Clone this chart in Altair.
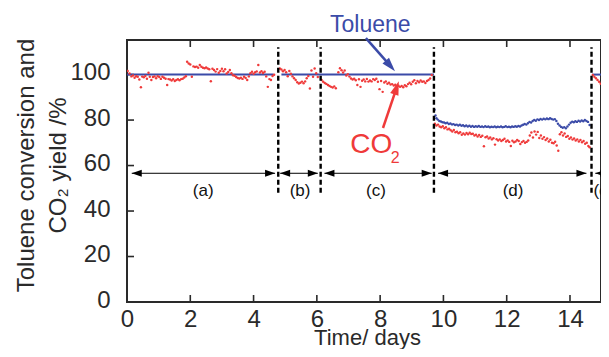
import math
import altair as alt
import pandas as pd

# ---------------- data ----------------
co2_days = [
    0.02, 0.08, 0.14, 0.19, 0.24, 0.29, 0.34, 0.39, 0.44, 0.48, 0.53, 0.58, 0.63, 0.68, 0.72, 0.77,
    0.82, 0.87, 0.92, 0.97, 1.02, 1.07, 1.12, 1.17, 1.22, 1.27, 1.31, 1.36, 1.41, 1.46, 1.51, 1.56,
    1.61, 1.66, 1.71, 1.76, 1.81, 1.86, 1.90, 1.95, 2.00, 2.05, 2.10, 2.15, 2.20, 2.25, 2.30, 2.35,
    2.40, 2.45, 2.50, 2.55, 2.60, 2.65, 2.70, 2.75, 2.80, 2.85, 2.90, 2.95, 3.00, 3.05, 3.10, 3.15,
    3.20, 3.25, 3.30, 3.35, 3.40, 3.45, 3.50, 3.55, 3.60, 3.65, 3.70, 3.75, 3.80, 3.85, 3.90, 3.95,
    4.00, 4.05, 4.10, 4.15, 4.20, 4.25, 4.30, 4.35, 4.40, 4.45, 4.50, 4.55, 4.60, 4.65,
    4.83, 4.88, 4.93, 4.98, 5.03, 5.08, 5.13, 5.18, 5.23, 5.28, 5.33, 5.38, 5.43, 5.48, 5.53, 5.58,
    5.63, 5.68, 5.73, 5.78, 5.83, 5.88, 5.93, 5.98, 6.03,
    6.15, 6.20, 6.25, 6.30, 6.35, 6.40, 6.45, 6.50, 6.55, 6.60, 6.68, 6.73, 6.78, 6.83, 6.88, 6.93,
    6.98, 7.03, 7.08, 7.13, 7.18, 7.23, 7.28, 7.33, 7.38, 7.43, 7.48, 7.53, 7.58, 7.63, 7.68, 7.73,
    7.78, 7.83, 7.88, 7.93, 7.98, 8.03, 8.08, 8.13, 8.18, 8.23, 8.28, 8.33, 8.38, 8.43, 8.48, 8.53,
    8.58, 8.63, 8.68, 8.73, 8.78, 8.83, 8.88, 8.93, 8.98, 9.03, 9.08, 9.13, 9.18, 9.23, 9.28, 9.33,
    9.38, 9.43, 9.48, 9.53, 9.58, 9.63,
    9.73, 9.78, 9.83, 9.88, 9.93, 9.98, 10.03, 10.08, 10.13, 10.18, 10.23, 10.28, 10.33, 10.38, 10.43,
    10.48, 10.53, 10.58, 10.63, 10.68, 10.73, 10.78, 10.83, 10.88, 10.93, 10.98, 11.03, 11.08, 11.13,
    11.18, 11.23, 11.28, 11.33, 11.38, 11.43, 11.48, 11.53, 11.58, 11.63, 11.68, 11.73, 11.78, 11.83,
    11.88, 11.93, 11.98, 12.03, 12.08, 12.13, 12.18, 12.23, 12.28, 12.33, 12.38, 12.43, 12.48, 12.53,
    12.58, 12.63, 12.68, 12.73, 12.78, 12.83, 12.88, 12.93, 12.98, 13.03, 13.08, 13.13, 13.18, 13.23,
    13.28, 13.33, 13.38, 13.43, 13.48, 13.53, 13.58, 13.63, 13.68, 13.73, 13.78, 13.83, 13.88, 13.93,
    13.98, 14.03, 14.08, 14.13, 14.18, 14.23, 14.28, 14.33, 14.38, 14.43, 14.48, 14.53, 14.58, 14.62,
    14.72, 14.77, 14.82, 14.87, 14.92, 14.97, 15.02, 15.07, 15.12, 15.17,
]
co2_vals = [
    101.6, 100.5, 99.2, 99.6, 98.6, 99.3, 99.0, 97.8, 94.4, 99.1, 98.8, 99.4, 98.2, 100.8, 99.0, 97.6,
    98.9, 99.2, 98.4, 99.3, 98.9, 98.1, 99.0, 98.6, 98.2, 95.4, 98.0, 97.8, 97.4, 97.9, 97.2, 97.6,
    97.9, 97.5, 98.0, 98.2, 98.7, 99.3, 105.6, 104.9, 104.4, 99.0, 103.6, 103.3, 103.5, 103.0, 104.2, 103.4,
    103.0, 102.8, 103.1, 102.7, 102.3, 97.1, 102.6, 102.0, 101.3, 102.4, 100.8, 101.6, 102.6, 101.5, 102.3, 100.5,
    101.1, 102.0, 100.6, 99.7, 99.5, 98.9, 98.5, 98.3, 98.6, 98.1, 99.0, 98.5, 97.6, 99.2, 100.6, 101.2,
    100.4, 101.0, 101.4, 104.2, 100.9, 101.5, 100.7, 101.2, 99.2, 94.6, 98.0, 97.6, 99.4, 99.9,
    102.7, 102.2, 101.5, 102.0, 101.0, 99.3, 101.6, 100.4, 99.2, 98.4, 97.6, 96.6, 96.1, 96.4, 96.9, 96.2,
    97.0, 98.4, 99.4, 93.9, 101.8, 99.0, 102.7, 100.6, 98.9,
    97.6, 96.8, 96.3, 95.9, 95.4, 95.0, 94.6, 94.3, 94.8, 94.0, 101.0, 102.8, 101.9, 100.9, 101.8, 99.6,
    100.2, 99.1, 98.3, 97.8, 98.2, 97.5, 95.4, 97.9, 94.6, 97.3, 97.8, 97.0, 98.1, 96.9, 97.4, 97.0,
    98.0, 97.6, 98.2, 96.8, 93.6, 97.2, 92.4, 96.5, 97.0, 96.0, 96.4, 95.6, 95.8, 95.2, 95.5, 94.8,
    95.1, 94.6, 95.0, 94.4, 95.3, 94.9, 95.8, 96.4, 95.7, 96.8, 97.5, 96.2, 97.2, 96.6, 97.4, 96.8,
    97.0, 96.3, 97.2, 97.6, 98.3, 99.8,
    78.4, 77.6, 78.0, 77.2, 76.8, 77.3, 76.4, 76.8, 75.9, 76.2, 75.5, 75.0, 75.6, 74.6, 74.9,
    74.2, 74.6, 73.5, 74.1, 73.6, 74.3, 73.8, 74.4, 73.9, 74.0, 73.2, 73.5, 72.8, 73.4,
    72.6, 73.1, 68.5, 72.4, 72.8, 71.9, 72.3, 71.5, 72.0, 69.2, 71.6, 71.0, 71.5, 70.8,
    71.2, 71.8, 70.6, 71.0, 70.4, 68.6, 70.9, 70.2, 70.6, 71.2, 70.8, 69.5, 70.3, 70.8,
    70.0, 70.4, 71.0, 73.2, 74.5, 72.3, 75.0, 73.6, 74.8, 72.1, 73.2, 71.8, 72.5, 71.2,
    71.9, 70.6, 71.3, 70.0, 69.8, 70.5, 68.8, 66.5, 73.8, 74.6, 73.2, 74.1, 72.6, 73.0,
    71.8, 72.3, 71.4, 71.9, 71.0, 71.5, 70.6, 71.2, 70.2, 70.8, 69.6, 70.0, 68.6, 68.0,
    99.8, 99.0, 98.4, 97.6, 96.8, 96.0, 95.2, 94.8, 94.4, 94.8,
]

tol_days = [
    9.72, 9.75, 9.78, 9.82, 9.87, 9.92, 9.97, 10.02, 10.07, 10.12, 10.17, 10.22, 10.27, 10.32, 10.37,
    10.42, 10.47, 10.52, 10.57, 10.62, 10.67, 10.72, 10.77, 10.82, 10.87, 10.92, 10.97, 11.02, 11.07,
    11.12, 11.17, 11.22, 11.27, 11.32, 11.37, 11.42, 11.47, 11.52, 11.57, 11.62, 11.67, 11.72, 11.77,
    11.82, 11.87, 11.92, 11.97, 12.02, 12.07, 12.12, 12.17, 12.22, 12.27, 12.32, 12.37, 12.42, 12.47,
    12.52, 12.57, 12.62, 12.67, 12.72, 12.77, 12.82, 12.87, 12.92, 12.97, 13.02, 13.07, 13.12, 13.17,
    13.22, 13.27, 13.32, 13.37, 13.42, 13.47, 13.52, 13.57, 13.62, 13.67, 13.72, 13.77, 13.82, 13.87,
    13.92, 13.97, 14.02, 14.07, 14.12, 14.17, 14.22, 14.27, 14.32, 14.37, 14.42, 14.47, 14.52, 14.57,
    14.62,
]
tol_vals = [
    84.5, 82.0, 80.8, 80.2, 79.6, 79.4, 79.0, 78.9, 78.6, 78.8, 78.3, 78.5, 78.1, 78.2, 77.8,
    78.0, 77.6, 77.9, 77.5, 77.7, 77.3, 77.6, 77.2, 77.5, 77.1, 77.4, 77.0, 77.3, 77.1,
    77.4, 77.0, 77.2, 76.9, 77.3, 77.0, 77.2, 76.8, 77.1, 76.9, 77.2, 76.8, 77.1, 76.9,
    77.2, 76.8, 77.0, 77.3, 76.9, 77.1, 76.8, 77.2, 77.0, 77.3, 77.1, 77.4, 77.2, 77.6,
    77.9, 78.3, 78.0, 78.6, 79.2, 78.9, 79.6, 80.0, 79.7, 80.3, 80.0, 80.5, 80.2, 80.6,
    80.3, 80.7, 80.4, 80.8, 80.5, 80.2, 80.4, 79.6, 78.4, 77.6, 77.0, 76.6, 76.9, 76.4,
    77.2, 78.0, 78.8, 79.3, 79.0, 79.5, 79.2, 79.7, 79.4, 79.8, 79.5, 80.0, 79.6, 79.2,
    77.8,
]

# layout constants (plot area in px and visible x/y ranges)
W, H = 474, 262
XMAX, YMAX = 14.98, 115.2

# full-conversion periods of toluene (drawn as a line at 100 %)
tol_seg_start = [0.0, 4.88, 14.70]
tol_seg_end = [4.63, 9.70, XMAX]
tol_seg_level = [100, 100, 100]

divider_days = [4.78, 6.12, 9.70, 14.68]
divider_low = [48, 48, 48, 48]
divider_high = [112, 112, 112, 112]

period_labels = ["(a)", "(b)", "(c)", "(d)", "(e)"]
period_start = [0.15, 4.84, 6.24, 9.83, 14.80]
period_end = [4.68, 6.03, 9.63, 14.52, 15.28]
period_mid = [2.41, 5.47, 7.87, 12.20, 15.07]
period_arrow_y = 56.6
period_label_y = 49.0

x_ticks = [0, 2, 4, 6, 8, 10, 12, 14]
y_ticks = [0, 20, 40, 60, 80, 100]

tol_callout_start = (7.55, 116.0)
tol_callout_tip = (8.47, 101.5)
co2_callout_start = (8.09, 76.5)
co2_callout_tip = (8.59, 97.1)

# ---------------- style ----------------
BLUE = "#3b4ba8"
RED = "#ef3a3a"
INK = "#2a2a2a"
FONT = "Liberation Sans"

xs = alt.Scale(domain=[0, XMAX], nice=False, zero=False)
ys = alt.Scale(domain=[0, YMAX], nice=False, zero=False)

x_axis = alt.Axis(values=x_ticks, ticks=False, domain=False, grid=False, labelPadding=5,
                  labelFontSize=24, labelColor=INK, labelFont=FONT, labelFlush=False,
                  labelOverlap=False, title="Time/ days", titleFontSize=22, titleFont=FONT,
                  titleColor=INK, titleFontWeight="normal", titleX=240, titleY=42,
                  titleAlign="center", titleBaseline="alphabetic")
y_axis = alt.Axis(values=y_ticks, ticks=False, domain=False, grid=False, labelPadding=17,
                  labelFontSize=24, labelColor=INK, labelFont=FONT, labelFlush=False,
                  labelOverlap=False, labelOffset=-2,
                  title=["Toluene conversion and", "CO\u2082 yield /%"], titleFontSize=24,
                  titleFont=FONT, titleColor=INK, titleFontWeight="normal", titleAngle=270,
                  titleX=-94, titleY=125, titleAlign="center", titleBaseline="alphabetic",
                  titleLineHeight=32)


def X(f="x"):
    return alt.X(f"{f}:Q", scale=xs, axis=x_axis)


def Y(f="y"):
    return alt.Y(f"{f}:Q", scale=ys, axis=y_axis)


ppd = W / XMAX
ppu = H / YMAX


def head(start, tip, r):
    dx = (tip[0] - start[0]) * ppd
    dy = -(tip[1] - start[1]) * ppu
    n = math.hypot(dx, dy)
    ux, uy = dx / n, dy / n
    cx = tip[0] - ux * r / ppd
    cy = tip[1] + uy * r / ppu
    ang = math.degrees(math.atan2(ux, -uy)) % 360
    return cx, cy, ang


# ---------------- layers ----------------
co2_df = pd.DataFrame({"x": co2_days, "y": co2_vals})
tol_df = pd.DataFrame({"x": tol_days, "y": tol_vals})
seg_df = pd.DataFrame({"x": tol_seg_start, "x2": tol_seg_end, "y": tol_seg_level})
div_df = pd.DataFrame({"x": divider_days, "y": divider_low, "y2": divider_high})
per_df = pd.DataFrame({"x": period_start, "x2": period_end, "y": [period_arrow_y] * 5,
                       "mid": period_mid, "ly": [period_label_y] * 5, "label": period_labels})

R_HEAD = 5
per_df["lh"] = per_df["x"] + R_HEAD / ppd
per_df["rh"] = per_df["x2"] - R_HEAD / ppd

xt_df = pd.DataFrame({"x": x_ticks[1:]})
yt_df = pd.DataFrame({"y": y_ticks[1:]})

layers = []

# inward ticks
layers.append(alt.Chart(xt_df).mark_rule(color=INK, strokeWidth=1.6).encode(
    x=X(), y=alt.value(H), y2=alt.value(H - 7)))
layers.append(alt.Chart(xt_df).mark_rule(color=INK, strokeWidth=1.6).encode(
    x=X(), y=alt.value(0), y2=alt.value(7)))
layers.append(alt.Chart(yt_df).mark_rule(color=INK, strokeWidth=1.6).encode(
    y=Y(), x=alt.value(0), x2=alt.value(7)))

# toluene at 100 %
layers.append(alt.Chart(seg_df).mark_rule(color=BLUE, strokeWidth=2).encode(
    x=X(), x2="x2:Q", y=Y()))
# toluene in (d)
layers.append(alt.Chart(tol_df).mark_circle(color=BLUE, size=6, opacity=1).encode(x=X(), y=Y()))
# CO2 yield
layers.append(alt.Chart(co2_df).mark_circle(color=RED, size=6, opacity=1, clip=True).encode(
    x=X(), y=Y()))

# period dividers
layers.append(alt.Chart(div_df).mark_rule(color="black", strokeWidth=2.4, strokeDash=[5, 3]).encode(
    x=X(), y=Y(), y2="y2:Q"))

# period arrows
layers.append(alt.Chart(per_df).mark_rule(color="black", strokeWidth=1).encode(
    x=X(), x2="x2:Q", y=Y()))
layers.append(alt.Chart(per_df).mark_point(shape="M-1,0L1,-0.7L1,0.7Z", filled=True, size=100,
                                           color="black", opacity=1).encode(x=X("lh"), y=Y()))
layers.append(alt.Chart(per_df).mark_point(shape="M1,0L-1,-0.7L-1,0.7Z", filled=True, size=100,
                                           color="black", opacity=1).encode(x=X("rh"), y=Y()))
layers.append(alt.Chart(per_df).mark_text(fontSize=17, font=FONT, color="#111",
                                          baseline="middle", align="center").encode(
    x=X("mid"), y=Y("ly"), text="label:N"))

# callouts
R_CALL = 7
for start, tip, color in [(tol_callout_start, tol_callout_tip, BLUE),
                          (co2_callout_start, co2_callout_tip, RED)]:
    cx, cy, ang = head(start, tip, R_CALL)
    d = pd.DataFrame({"x": [start[0]], "y": [start[1]], "x2": [cx], "y2": [cy]})
    layers.append(alt.Chart(d).mark_rule(color=color, strokeWidth=2.5).encode(
        x=X(), y=Y(), x2="x2:Q", y2="y2:Q"))
    hd = pd.DataFrame({"x": [cx], "y": [cy]})
    layers.append(alt.Chart(hd).mark_point(shape="M0,-1L0.62,1L-0.62,1Z", filled=True,
                                           size=(2 * R_CALL) ** 2, color=color, opacity=1,
                                           angle=round(ang, 1)).encode(x=X(), y=Y()))

txt_df = pd.DataFrame({"x": [7.69], "y": [118.7], "t": ["Toluene"]})
layers.append(alt.Chart(txt_df).mark_text(fontSize=23, font=FONT, color=BLUE, align="center",
                                          baseline="alphabetic").encode(x=X(), y=Y(), text="t:N"))
co_df = pd.DataFrame({"x": [7.72], "y": [65.5], "t": ["CO"]})
layers.append(alt.Chart(co_df).mark_text(fontSize=28, font=FONT, color=RED, align="center",
                                         baseline="alphabetic").encode(x=X(), y=Y(), text="t:N"))
sub_df = pd.DataFrame({"x": [8.48], "y": [61.1], "t": ["2"]})
layers.append(alt.Chart(sub_df).mark_text(fontSize=16, font=FONT, color=RED, align="center",
                                          baseline="alphabetic").encode(x=X(), y=Y(), text="t:N"))

chart = alt.layer(*layers).properties(
    width=W, height=H,
    autosize=alt.AutoSizeParams(type="none"),
    padding={"left": 119, "top": 32, "right": 0, "bottom": 47},
    background="white",
).configure_view(stroke=INK, strokeWidth=2)

chart.save("out.html", embed_options={"renderer": "svg", "actions": False})
